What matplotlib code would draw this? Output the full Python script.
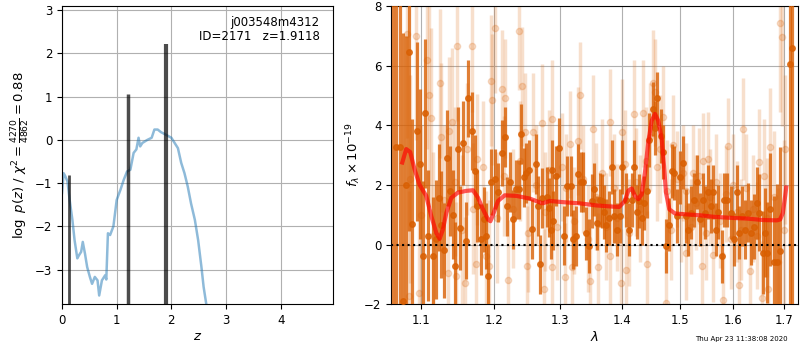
import numpy as np
import matplotlib
matplotlib.use("Agg")
import matplotlib.pyplot as plt
from matplotlib.ticker import NullLocator, FixedLocator, FixedFormatter

# ---------------- left panel data: p(z) ----------------
z_grid = [0.0, 0.03, 0.06, 0.10, 0.14, 0.19, 0.23, 0.28, 0.31, 0.35, 0.38, 0.42,
          0.46, 0.51, 0.55, 0.60, 0.65, 0.68, 0.73, 0.79, 0.81, 0.84, 0.88, 0.94,
          1.00, 1.07, 1.13, 1.19, 1.25, 1.31, 1.36, 1.40, 1.43, 1.47, 1.56, 1.64,
          1.69, 1.75, 1.81, 1.90, 2.00, 2.06, 2.12, 2.18, 2.24, 2.30, 2.36, 2.43,
          2.49, 2.55, 2.59, 2.64, 2.70, 2.90, 3.20]
logpz = [-1.23, -0.77, -0.84, -0.96, -1.39, -1.85, -2.32, -2.74, -2.67, -2.59, -2.36, -2.63,
         -2.94, -3.17, -3.33, -3.17, -3.25, -3.60, -3.25, -3.13, -3.23, -2.16, -2.20, -2.00,
         -1.39, -1.15, -0.92, -0.73, -0.69, -0.30, -0.22, 0.05, -0.15, -0.07, 0.00, 0.05,
         0.24, 0.24, 0.18, 0.12, 0.05, -0.07, -0.19, -0.53, -0.77, -1.08, -1.47, -1.85,
         -2.32, -2.94, -3.40, -3.81, -4.50, -6.5, -9.0]
peak_z = [0.12, 1.21, 1.91]
peak_top = [-0.82, 1.07, 2.22]
peak_lw = [2.0, 2.5, 3.0]

# ---------------- right panel data: spectrum ----------------
dark_lam = [1.0627, 1.0672, 1.0725, 1.0757, 1.0803, 1.0837, 1.0876, 1.0942, 1.0978, 1.1021,
            1.1044, 1.1088, 1.1154, 1.1200, 1.1234, 1.1266, 1.1311, 1.1342, 1.1387, 1.1423,
            1.1459, 1.1491, 1.1528, 1.1559, 1.1605, 1.1641,
            1.1684, 1.1728, 1.1761, 1.1813, 1.1856, 1.1885, 1.1917, 1.1966, 1.2014, 1.2061,
            1.2121, 1.2159, 1.2198, 1.2232, 1.2281, 1.2331, 1.2365, 1.2405, 1.2444, 1.2479,
            1.2519, 1.2570, 1.2621, 1.2656, 1.2682, 1.2723, 1.2785, 1.2825, 1.2846,
            1.2870, 1.2892, 1.2938, 1.2979, 1.3056, 1.3107, 1.3160, 1.3196, 1.3239, 1.3280,
            1.3318, 1.3360, 1.3408, 1.3451, 1.3495, 1.3532, 1.3587, 1.3626, 1.3659, 1.3697,
            1.3735, 1.3779, 1.3824, 1.3862, 1.3918, 1.3958, 1.4002, 1.4069, 1.4115,
            1.4160, 1.4199, 1.4245, 1.4290, 1.4331, 1.4371, 1.4417, 1.4463, 1.4522, 1.4562,
            1.4603, 1.4662, 1.4708, 1.4756, 1.4815, 1.4857, 1.4904, 1.4947, 1.5006, 1.5066,
            1.5115, 1.5157, 1.5206, 1.5261, 1.5311, 1.5372, 1.5422, 1.5465, 1.5527, 1.5572,
            1.5620, 1.5671, 1.5714, 1.5778, 1.5822, 1.5885, 1.5950, 1.6013, 1.6065, 1.6116,
            1.6163, 1.6227, 1.6292, 1.6339, 1.6391, 1.6457, 1.6509, 1.6577, 1.6622, 1.6668,
            1.6722, 1.6790, 1.6857, 1.6924, 1.7129, 1.7176]
dark_flux = [9.5, 3.27, 3.27, -1.9, 2.0, 6.46, 0.7, 3.8, 2.7, -0.37,
             4.4, 0.3, -0.4, 0.17, 1.57, 0.67, -0.2, 2.9, 1.8, 1.0,
             -0.73, 3.2, 0.56, 3.4, 0.13, 4.9,
             3.8, 2.47, 1.3, 0.17, 0.84, 0.28, -1.07, 2.1, 2.2, 1.75,
             3.06, 3.6, 1.28, 2.1, 0.84, 1.85, 1.85, 3.7, 2.25, 2.4,
             2.5, 0.53, 2.7, 1.3, -0.67, 1.57, 1.6, 1.24, 0.5,
             2.5, 0.8, 2.3, 3.25, 0.3, 1.96, 1.96, 0.17, 0.28, 2.36,
             2.1, 2.1, 0.37, -0.06, 1.46, 1.85, 0.73, 1.5, 1.46, 1.1,
             0.64, 0.9, 2.6, 0.95, 0.5, 0.95, 2.6, 1.5, 0.5,
             1.5, 2.6, 1.1, 1.46, 0.9, 1.4, 1.8, 3.5, 4.55, 3.9,
             4.9, 3.65, 3.1, -0.06, 0.67, 2.47, 2.4, 0.95, 2.25, 2.75,
             0.95, 0.5, 1.07, 1.5, 2.1, 0.84, 1.5, 1.07, 1.75, 1.3,
             1.75, 0.5, 1.1, -0.4, 1.5, 1.5, 1.07, 0.17, 1.75, 0.4,
             0.95, 0.5, 1.07, 0.4, 0.6, 1.4, 1.07, -0.27, 0.4, -0.27,
             1.18, -0.57, -0.57, -0.23, 6.06, 6.6]
dark_err = [12.0, 8.0, 8.0, 9.0, 5.0, 6.0, 3.5, 3.0, 2.5, 2.5,
            2.5, 2.2, 2.0, 2.0, 1.8, 1.8, 1.6, 1.6, 1.5, 1.5,
            1.5, 1.4, 1.4, 1.4, 1.3, 1.3,
            1.3, 1.2, 1.2, 1.2, 1.1, 1.1, 1.1, 1.1, 1.0, 1.0,
            1.1, 1.0, 1.0, 1.0, 1.0, 1.0, 1.0, 1.0, 1.0, 1.0,
            1.0, 1.0, 1.0, 1.0, 1.0, 1.0, 1.0, 1.0, 1.0,
            1.0, 1.0, 1.0, 1.0, 1.0, 1.0, 1.0, 1.0, 1.0, 1.0,
            1.0, 1.0, 0.9, 0.9, 0.9, 0.9, 0.9, 0.9, 0.9, 0.9,
            0.9, 0.9, 0.9, 0.9, 0.9, 0.9, 0.9, 0.9, 0.9,
            0.9, 0.9, 0.9, 0.9, 0.9, 0.9, 0.9, 0.9, 0.9, 0.9,
            0.9, 0.9, 0.9, 0.9, 0.9, 0.9, 0.9, 0.9, 0.9, 0.9,
            0.9, 0.9, 0.9, 0.9, 0.9, 0.9, 0.9, 0.9, 0.9, 0.9,
            0.9, 0.9, 0.9, 0.9, 0.9, 0.9, 0.9, 0.9, 0.9, 0.9,
            1.0, 1.0, 1.0, 1.1, 1.1, 1.2, 1.3, 1.4, 1.5, 1.7,
            1.9, 2.2, 2.6, 3.5, 12.0, 12.0]

light_lam = [1.0807, 1.0925, 1.1070, 1.1097, 1.1123, 1.1256, 1.1269, 1.1376, 1.1417, 1.1485,
             1.1623, 1.1692, 1.1762, 1.1961, 1.1975, 1.2018, 1.2119, 1.2163, 1.2369, 1.2414,
             1.2459, 1.2580, 1.2718, 1.2873, 1.3030, 1.3157, 1.3302, 1.3270, 1.3516, 1.3795,
             1.3996, 1.4199, 1.4353, 1.4527, 1.4562, 1.4703, 1.4881, 1.5061, 1.5243, 1.5427,
             1.5521, 1.5899, 1.6188, 1.6502, 1.6722, 1.6924, 1.6965, 1.7026,
             1.0833, 1.0964, 1.1363, 1.1471, 1.1595, 1.1748, 1.1885, 1.1927, 1.2203, 1.2485,
             1.2743, 1.2873, 1.3069, 1.3179, 1.3467, 1.3598, 1.3795, 1.3979, 1.4063, 1.4423,
             1.4757, 1.5115, 1.5409, 1.5614, 1.5803, 1.6110, 1.6325, 1.6562, 1.6682,
             1.085, 1.100, 1.115, 1.130, 1.145, 1.155, 1.170, 1.185, 1.205, 1.215,
             1.228, 1.238, 1.250, 1.262, 1.276, 1.283, 1.295, 1.308, 1.322, 1.335,
             1.343, 1.356, 1.366, 1.373, 1.386, 1.392, 1.405, 1.412, 1.423, 1.430,
             1.440, 1.447, 1.459, 1.465, 1.478, 1.484, 1.495, 1.503, 1.512, 1.520,
             1.530, 1.536, 1.548, 1.556, 1.566, 1.574, 1.585, 1.595, 1.600, 1.607,
             1.615, 1.625, 1.638, 1.645, 1.660, 1.665, 1.680, 1.687, 1.700]
light_flux = [7.07, 7.0, 6.2, 5.0, 4.25, 5.4, 3.6, 3.8, 4.1, 6.65,
              3.2, 6.65, 2.86, 5.5, 4.85, 7.27, 5.2, 4.9, 7.17, 5.3,
              3.76, 3.76, 4.07, 4.2, 2.6, 3.36, 5.0, 3.47, 3.87, 4.1,
              3.76, 4.38, 4.4, 5.4, 5.1, 4.27, 3.33, 2.4, 2.4, 2.8,
              2.86, 3.3, 3.87, 2.76, 3.26, 7.44, 6.97, 3.2,
              -1.72, -1.62, -0.94, -1.07, -1.28, -0.67, -0.4, -0.71, -1.18, -0.71,
              -1.48, -0.74, -1.08, -0.74, -1.24, -0.74, -0.4, -1.28, -0.87, -0.67,
              -1.95, -0.27, -0.71, -0.34, -1.85, -1.35, -0.9, -1.78, -1.5,
              2.2, 1.0, 0.3, 1.5, 2.1, 0.5, 1.2, 2.6, 0.9, 2.3,
              1.2, 2.8, 0.4, 2.0, 1.1, 2.5, 0.6, 1.9, 0.8, 2.2,
              0.2, 1.6, 2.4, 0.6, 1.9, 0.9, 2.7, 0.4, 2.1, 1.2,
              2.8, 3.6, 2.6, 3.2, 1.8, 0.5, 2.2, 1.0, 1.8, 0.6,
              1.4, 2.3, 0.4, 1.6, 2.1, 0.8, 1.7, 0.2, 2.0, 1.1,
              0.5, 1.9, 1.2, 0.3, 2.3, 0.9, 1.6, -0.6, 0.5]
light_err = [3.5, 3.5, 3.0, 3.0, 3.0, 2.5, 2.5, 2.5, 2.5, 2.5,
             2.2, 2.2, 2.2, 2.2, 2.2, 2.2, 2.0, 2.0, 2.0, 2.0,
             2.0, 2.0, 2.0, 2.0, 1.8, 1.8, 1.8, 1.8, 1.8, 1.8,
             1.8, 1.8, 1.8, 1.8, 1.8, 1.7, 1.7, 1.6, 1.6, 1.6,
             1.6, 1.6, 1.7, 1.8, 2.0, 3.0, 3.0, 2.5,
             3.5, 3.5, 2.5, 2.5, 2.2, 2.2, 2.2, 2.2, 2.0, 2.0,
             2.0, 2.0, 1.8, 1.8, 1.8, 1.8, 1.8, 1.8, 1.8, 1.8,
             1.7, 1.6, 1.6, 1.6, 1.6, 1.7, 1.8, 1.9, 2.0,
             3.5, 3.0, 2.8, 2.5, 2.5, 2.5, 2.2, 2.2, 2.2, 2.0,
             2.0, 2.0, 2.0, 2.0, 2.0, 2.0, 1.8, 1.8, 1.8, 1.8,
             1.8, 1.8, 1.8, 1.8, 1.8, 1.8, 1.8, 1.8, 1.8, 1.8,
             1.8, 1.8, 1.8, 1.8, 1.7, 1.7, 1.6, 1.6, 1.6, 1.6,
             1.6, 1.6, 1.6, 1.6, 1.6, 1.6, 1.6, 1.7, 1.7, 1.7,
             1.7, 1.8, 1.8, 1.8, 1.9, 2.0, 2.2, 2.5, 3.0]

model_lam = [1.0752, 1.0803, 1.0855, 1.0912, 1.0978, 1.1066, 1.1133, 1.1200, 1.1245, 1.1289,
             1.1336, 1.1404, 1.1495, 1.1612, 1.1704, 1.1775, 1.1846, 1.1917, 1.1952, 1.1999,
             1.2061, 1.2159, 1.2331, 1.2530, 1.2723, 1.2835, 1.3042, 1.3307, 1.3577, 1.3850,
             1.3950, 1.4046, 1.4102, 1.4160, 1.4216, 1.4273, 1.4331, 1.4388, 1.4445, 1.4505,
             1.4562, 1.4620, 1.4680, 1.4721, 1.4756, 1.4815, 1.4917, 1.5128, 1.5372, 1.5620,
             1.6000, 1.6260, 1.6588, 1.6857, 1.6924, 1.6979, 1.7026, 1.7047]
model_flux = [2.75, 3.2, 3.1, 2.52, 2.0, 1.63, 0.95, 0.39, 0.19, 0.5,
              1.06, 1.57, 1.74, 1.8, 1.82, 1.57, 1.18, 0.84, 0.78, 1.06,
              1.46, 1.65, 1.63, 1.54, 1.38, 1.46, 1.42, 1.38, 1.31, 1.27,
              1.26, 1.46, 1.80, 1.88, 1.63, 1.52, 1.68, 2.41, 3.42, 4.15,
              4.38, 4.15, 3.54, 2.64, 1.74, 1.18, 1.04, 1.01, 0.98, 0.93,
              0.89, 0.87, 0.82, 0.81, 0.84, 1.06, 1.63, 1.91]

xticks = [1.1, 1.2, 1.3, 1.4, 1.5, 1.6, 1.7]
xtick_labels = ["1.1", "1.2", "1.3", "1.4", "1.5", "1.6", "1.7"]

# ---------------- figure ----------------
plt.rcParams['font.family'] = ['DejaVu Sans']
fig = plt.figure(figsize=(8, 3.5), dpi=100)
ax1 = fig.add_axes([0.0775, 0.131, 0.339, 0.852])
ax2 = fig.add_axes([0.489, 0.131, 0.5085, 0.852])

FS = 8.5
# left panel
ax1.plot(z_grid, logpz, color='#1f77b4', alpha=0.5, lw=1.8)
ymin1 = -3.8
for zz, tt, lw in zip(peak_z, peak_top, peak_lw):
    ax1.vlines(zz, ymin1, tt, color='k', alpha=0.7, lw=lw)
ax1.set_xlim(0, 4.96)
ax1.set_ylim(ymin1, 3.1)
ax1.grid(True, color='#b0b0b0', lw=0.8)
ax1.set_xlabel(r'$z$', fontsize=FS + 1, labelpad=2)
ax1.set_ylabel(r'$\log\ p(z)$ / $\chi^2=\frac{4270}{4862}=0.88$', fontsize=FS + 1, labelpad=2)
ax1.tick_params(labelsize=FS)
ax1.text(0.95, 0.965, 'j003548m4312\nID=2171   z=1.9118', transform=ax1.transAxes,
         ha='right', va='top', fontsize=FS, linespacing=1.1)

# right panel
orange = '#d95f02'
ax2.errorbar(light_lam, light_flux, yerr=light_err, fmt='o', color=orange, alpha=0.2,
             markersize=4.5, elinewidth=2.5, capsize=0, zorder=2)
ax2.errorbar(dark_lam, dark_flux, yerr=dark_err, fmt='o', color=orange, alpha=0.8,
             markersize=4, elinewidth=2.3, capsize=0, zorder=3)
ax2.plot(model_lam, model_flux, color='red', alpha=0.65, lw=3, zorder=4)
ax2.axhline(0, color='k', ls=':', lw=1.5, zorder=5)
ax2.set_xscale('log')
ax2.set_xlim(1.061, 1.729)
ax2.set_ylim(-2, 8)
ax2.xaxis.set_major_locator(FixedLocator(xticks))
ax2.xaxis.set_major_formatter(FixedFormatter(xtick_labels))
ax2.xaxis.set_minor_locator(NullLocator())
ax2.grid(True, color='#b0b0b0', lw=0.8)
ax2.set_xlabel(r'$\lambda$', fontsize=FS + 1, labelpad=2)
ax2.set_ylabel(r'$f_\lambda\times10^{-19}$', fontsize=FS + 1, labelpad=1)
ax2.tick_params(labelsize=FS)

fig.text(0.984, 0.031, 'Thu Apr 23 11:38:08 2020', ha='right', va='center', fontsize=5)

fig.savefig('out.png', dpi=100)
